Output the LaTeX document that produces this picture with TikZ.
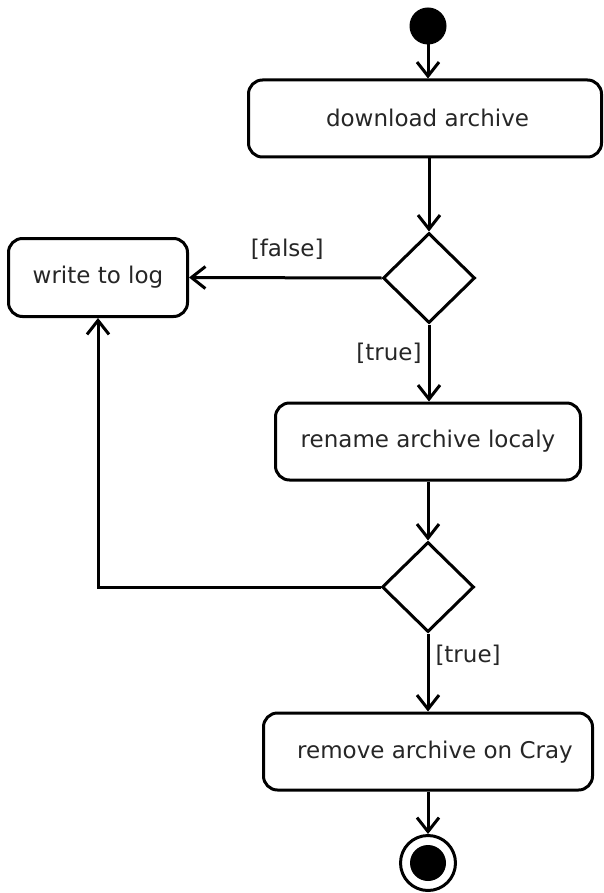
\documentclass[tikz,border=0pt]{standalone}
\usepackage{fontspec}
\setmainfont{DejaVu Sans}
\usetikzlibrary{arrows.meta,shapes.geometric}
\begin{document}
\begin{tikzpicture}[x=1pt,y=-1pt,
  line width=3pt,
  act/.style={draw,rounded corners=14pt,inner sep=0pt,text=black!85,font=\fontsize{23}{26}\selectfont},
  dec/.style={draw,diamond,minimum width=92pt,minimum height=90pt,inner sep=0pt,line join=miter},
  lbl/.style={font=\fontsize{23}{26}\selectfont,text=black!85,inner sep=0pt},
  flow/.style={-{Straight Barb[length=14pt,width=22pt,line width=3pt]}},
]
\useasboundingbox (0,0) rectangle (603,893);
\node[circle,fill=black,draw=black,line width=1pt,minimum size=36pt,inner sep=0pt] (start) at (428,26) {};
\node[act,minimum width=353pt,minimum height=77pt] (download) at (425,118.5) {};
\node[lbl] at (427.5,118) {download archive};
\node[dec] (d1) at (429,278) {};
\node[act,minimum width=179pt,minimum height=78pt] (log) at (98,277.5) {write to log};
\node[act,minimum width=305pt,minimum height=77pt] (rename) at (428,441.5) {rename archive localy};
\node[dec] (d2) at (428,587) {};
\node[act,minimum width=329pt,minimum height=77pt] (remove) at (428,751.5) {};
\node[lbl] at (435,752) {remove archive on Cray};
\node[circle,draw,line width=3pt,minimum size=55pt,inner sep=0pt] (stop) at (428,863) {};
\node[circle,fill=black,minimum size=36pt,inner sep=0pt] (stopin) at (428,863) {};
\draw[flow] (start.south) -- (start.south |- download.north);
\draw[flow] (download.south -| d1.north) -- (d1.north);
\draw[flow] (d1.west) -- (log.east) node[lbl,midway,above=17pt,xshift=2pt] {[false]};
\draw[flow] (d1.south) -- (d1.south |- rename.north) node[lbl,pos=0.38,left=6pt] {[true]};
\draw[flow] (rename.south -| d2.north) -- (d2.north);
\coordinate (corner) at (log.south |- d2.west);
\draw[flow] (d2.west) -- (corner) -- (log.south);
\draw[flow] (d2.south) -- (remove.north) node[lbl,pos=0.28,right=6pt] {[true]};
\draw[flow] (remove) -- (stop);
\end{tikzpicture}
\end{document}
